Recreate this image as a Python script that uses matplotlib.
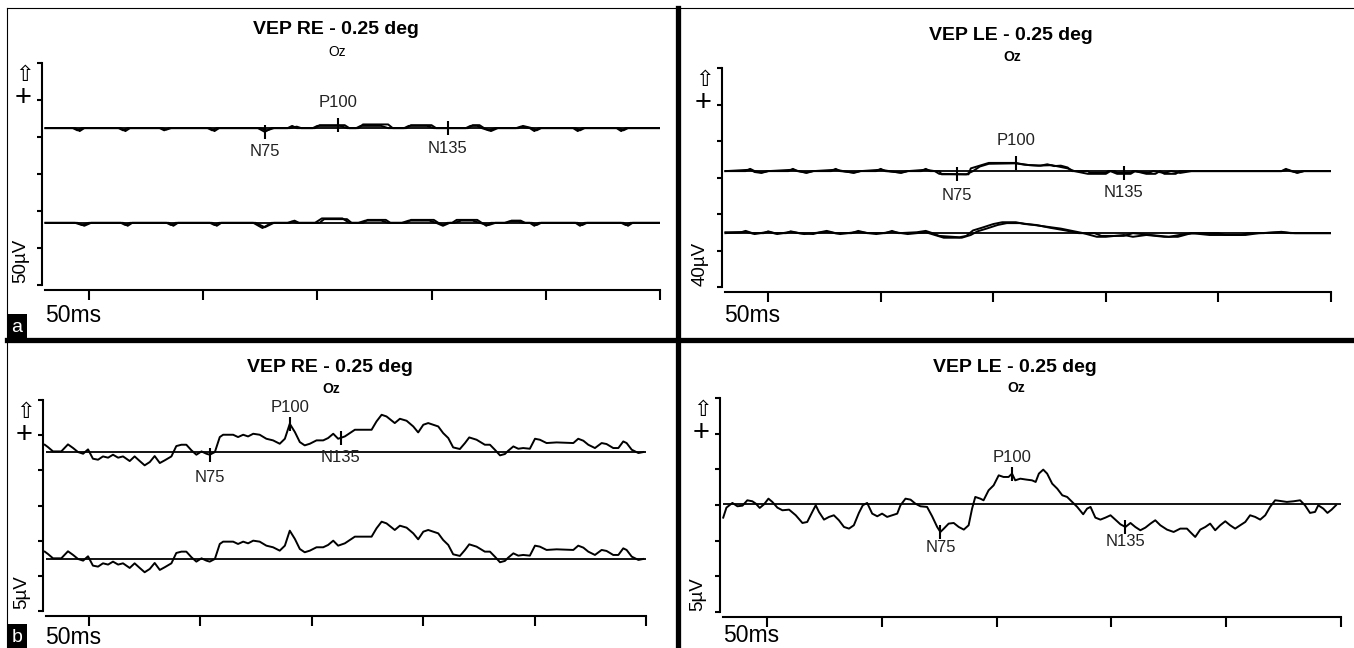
import numpy as np
import matplotlib.pyplot as plt
from matplotlib.lines import Line2D
from matplotlib.patches import Rectangle

plt.rcParams['font.family'] = ['Liberation Sans', 'DejaVu Sans']

W, H = 1354, 648

# ---------------- data (time in ms, amplitude in uV above each baseline) ----------------
titles = ['VEP RE - 0.25 deg', 'VEP LE - 0.25 deg', 'VEP RE - 0.25 deg', 'VEP LE - 0.25 deg']
scale_labels = ['50µV', '40µV', '5µV', '5µV']
uv_per_div = [50, 40, 5, 5]
baselines = [[212, 84], [127, 59], [22.6, 7.4], [15.1]]
time_ticks = [0, 50, 100, 150, 200, 250]
peak_names = ['N75', 'P100', 'N135']
peak_ms = [[77, 109, 157], [84, 110, 158], [54.3, 90.2, 113], [75.5, 106.7, 156]]
panel_tags = ['a', None, 'b', None]

# a, right eye (two superimposed runs per channel)
re_a_top1_t = [-19, -6, -4, -2, 13, 15, 17, 31, 33, 35, 52, 54, 56, 74, 77, 80, 87, 89, 91, 99, 101, 112, 114,
               118, 120, 131, 133, 139, 141, 150, 152, 166, 168, 171, 173, 176, 179, 188, 190, 194, 196, 198,
               213, 215, 217, 232, 234, 236, 250]
re_a_top1_v = [0, 0, -4, 0, 0, -3, 0, 0, -3, 0, 0, -3, 0, 0, -5, 0, 0, 3, 0, 0, 4, 4, 0, 0, 5, 5, 0, 0, 4, 4, 0,
               0, 4, 4, 0, -4, 0, 0, 3, 0, -3, 0, 0, -3, 0, 0, -3, 0, 0]
re_a_top2_t = [-19, -7, -5, -3, 14, 16, 18, 32, 34, 36, 53, 55, 57, 75, 78, 81, 88, 91, 93, 98, 100, 110, 113,
               117, 119, 128, 131, 138, 140, 148, 151, 165, 167, 170, 172, 175, 178, 187, 189, 193, 195, 197,
               212, 214, 216, 231, 233, 235, 250]
re_a_top2_v = [0, 0, -3, 0, 0, -4, 0, 0, -2, 0, 0, -4, 0, 0, -3, 0, 0, 2, 0, 0, 3, 3, 0, 0, 3, 3, 0, 0, 3, 3, 0,
               0, 3, 3, 0, -3, 0, 0, 2, 0, -4, 0, 0, -4, 0, 0, -4, 0, 0]
re_a_bot1_t = [-19, -5, -2, 1, 15, 17, 19, 35, 37, 39, 54, 56, 58, 73, 77, 81, 88, 90, 92, 101, 103, 113, 115,
               120, 122, 130, 132, 139, 141, 151, 153, 155, 157, 159, 161, 170, 172, 174, 176, 183, 185, 189,
               191, 193, 195, 197, 214, 216, 218, 234, 236, 238, 250]
re_a_bot1_v = [0, 0, -4, 0, 0, -4, 0, 0, -4, 0, 0, -4, 0, 0, -6, 0, 0, 3, 0, 0, 5, 5, 0, 0, 4, 4, 0, 0, 4, 4,
               0, -3, 0, 0, 4, 4, 0, -4, 0, 0, 3, 3, 0, 0, -4, 0, 0, -3, 0, 0, -4, 0, 0]
re_a_bot2_t = [-19, -6, -3, 0, 14, 16, 18, 34, 36, 38, 53, 55, 57, 72, 76, 80, 87, 89, 91, 99, 102, 111, 114,
               118, 121, 128, 131, 137, 140, 149, 152, 155, 158, 160, 163, 168, 171, 175, 178, 182, 184, 188,
               190, 194, 196, 198, 213, 215, 217, 233, 235, 237, 250]
re_a_bot2_v = [0, 0, -3, 0, 0, -3, 0, 0, -3, 0, 0, -3, 0, 0, -7, 0, 0, 2, 0, 0, 6, 6, 0, 0, 3, 3, 0, 0, 3, 3,
               0, -4, 0, 0, 3, 3, 0, -3, 0, 0, 2, 2, 0, 0, -3, 0, 0, -4, 0, 0, -3, 0, 0]

# a, left eye
le_a_top1_t = [-19, -10, -8, -6, -3, 0, 9, 11, 13, 17, 20, 28, 30, 32, 38, 41, 48, 50, 52, 59, 62, 68, 70, 72,
               76, 77, 89, 90, 94, 98, 110, 112, 116, 121, 124, 127, 130, 133, 135, 142, 143, 150, 151, 154,
               155, 161, 162, 169, 171, 176, 179, 183, 188, 228, 230, 232, 235, 238, 250]
le_a_top1_v = [0, 0, 2.5, 0, -1.5, 0, 0, 2.5, 0, -1.5, 0, 0, 2.5, 0, -1.5, 0, 0, 2.5, 0, -1.5, 0, 0, 2.5, 0,
               0, -3.5, -3.5, 3, 6, 9, 9, 8, 6.5, 6, 7.5, 5.5, 6, 4, 0, 0, -2, -2, 0, 0, -2, -2, 0, -2, 0, -2,
               0, -2, 0, 0, 2.5, 0, -1.5, 0, 0]
le_a_top2_t = [-19, -8, -6, -3, 0, 11, 17, 20, 30, 38, 41, 50, 59, 62, 70, 74, 76, 88, 91, 94, 98, 110, 114,
               120, 126, 133, 136, 142, 150, 152, 155, 161, 163, 168, 172, 174, 176, 181, 183, 228, 231, 235,
               238, 250]
le_a_top2_v = [0, 1.5, -1, -2, 0, 1.5, -2, 0, 1.5, -2, 0, 1.5, -2, 0, 1.5, 0, -3, -3.5, 0, 5, 8, 8.5, 7, 6,
               6.5, 3, 0, -3, -3, 0, -3, -3, 0, -3, -3, 0, -3, -3, 0, 0, 1.5, -2, 0, 0]
le_a_bot1_t = [-19, -12, -10, -7, -2, 0, 3, 8, 10, 14, 20, 23, 26, 30, 37, 40, 44, 52, 55, 58, 66, 70, 73, 76,
               85, 88, 91, 95, 100, 104, 110, 114, 119, 125, 132, 138, 145, 148, 158, 162, 170, 178, 185, 190,
               200, 203, 210, 213, 220, 228, 232, 240, 250]
le_a_bot1_v = [1, 1, 2.5, 0, 0, 2, 0, 0, 2, 0, -1, 1, 2.5, 0, 0, 2.5, 0, 0, 2.5, 0, 1, 2.5, 0, -3, -4.5, -3,
               3, 6, 10, 12, 12, 10, 9, 6, 3, 0, 0, -3, -3, 0, -2, -4, -1, 0, 0, -2, -2, 0, 0, 1.5, 0, 0, 0]
le_a_bot2_t = [-19, -10, -6, 0, 4, 10, 16, 26, 32, 40, 48, 55, 62, 70, 74, 78, 86, 90, 93, 97, 102, 106, 112,
               118, 124, 130, 136, 140, 146, 150, 158, 162, 168, 176, 182, 188, 196, 202, 212, 218, 228, 234, 250]
le_a_bot2_v = [0, 1.5, -1, 1.5, -1, 1.5, -1, 1.5, -1, 1.5, -1, 1.5, -1, 1, -2, -5, -5, -2, 2, 5, 9, 11, 11, 9,
               7, 5, 2, 0, -4, -4, -2, -4, -2, -4, -4, 0, -2, -2, -2, 0, 1, 0, 0]

# b, right eye (same averaged wave shown on both channels)
re_b_t = [-19.7, -18.3, -16.0, -12.3, -9.3, -7.0, -4.8, -2.5, -0.3, 1.9, 4.2, 6.4, 8.7, 10.9, 13.2, 15.4,
          18.4, 20.6, 22.9, 25.1, 27.4, 29.6, 31.9, 34.1, 37.1, 39.3, 41.6, 43.8, 46.1, 48.3, 50.6, 52.8,
          54.3, 56.6, 58.8, 60.3, 64.8, 67.0, 69.3, 71.5, 73.8, 76.7, 79.7, 82.7, 85.7, 88.0, 90.2, 92.5,
          94.7, 96.9, 99.2, 102.2, 105.2, 107.4, 109.7, 111.9,
          114.9, 119.4, 126.9, 129.1, 131.4, 133.6, 137.3, 139.6, 142.6, 145.6, 147.8, 150.1, 152.3, 156.8,
          159.0, 161.3, 163.5, 166.5, 168.8, 170.7, 174.0, 177.7, 180.0, 182.2, 184.5, 186.7, 188.2, 190.5,
          192.7, 194.9, 197.9, 200.2, 202.4, 205.4, 209.9, 217.4, 219.6, 221.9, 224.1, 227.1, 230.1, 232.3,
          235.3, 237.6, 239.8, 241.3, 243.6, 246.6, 248.8]
re_b_v = [1.04, 0.71, 0.09, 0.09, 1.09, 0.57, 0.0, -0.24, 0.38, -0.95, -1.09, -0.62, -0.80, -0.38, -0.80,
          -0.62, -1.28, -0.62, -1.28, -1.89, -1.42, -0.57, -1.56, -1.18, -0.62, 0.85, 1.04, 1.04, 0.24,
          -0.38, 0.09, -0.24, -0.38, 0.0, 2.13, 2.46, 2.46, 2.13, 2.46, 2.22, 2.60, 2.46, 1.89, 1.66, 1.18,
          1.89, 4.02, 2.84, 1.42, 0.95, 1.18, 1.66, 1.66, 1.99, 2.60, 1.89,
          2.22, 3.17, 3.17, 4.35, 5.30, 5.06, 4.12, 4.73, 4.45, 3.64, 2.79, 3.88, 4.12, 3.64, 2.70, 1.99,
          0.66, 0.43, 1.28, 2.08, 1.75, 1.04, 1.04, 0.33, -0.47, -0.28, 0.19, 0.80, 0.47, 0.57, 0.47, 1.89,
          1.75, 1.28, 1.37, 1.28, 1.89, 1.61, 1.04, 0.57, 1.28, 1.14, 0.57, 0.57, 1.51, 1.28, 0.33, -0.14,
          0.0]

# b, left eye
le_b_t = [-19.1, -17.7, -15.1, -12.9, -10.7, -8.6, -6.4, -4.9, -3.2, -1.3, 0.6, 2.3, 4.5, 6.7, 9.6, 12.5,
          15.4, 17.5, 19.7, 21.2, 22.6, 24.8, 27.0, 29.1, 31.3, 33.5, 35.7, 37.8, 40.0, 41.7, 43.6, 45.8,
          48.0, 50.1, 52.3, 54.5, 56.7, 58.1, 60.3, 62.5, 64.6, 66.8, 69.7, 71.9, 74.1, 75.5, 77.0, 79.1,
          81.3, 83.5, 85.7, 87.8, 89.3, 90.7, 92.9, 94.3, 96.5, 98.7, 100.9, 103.0, 105.2, 106.7, 108.1,
          110.3, 113.2, 115.4,
          117.0, 118.4, 120.3, 122.0, 124.2, 126.4, 128.6, 130.7, 132.9, 135.1, 137.7, 139.4, 140.9, 143.0,
          145.2, 147.4, 149.6, 151.7, 153.9, 156.1, 158.3, 160.4, 162.6, 164.8, 167.0, 169.1, 171.3, 174.2,
          177.1, 180.0, 182.9, 184.3, 186.5, 188.7, 190.9, 193.0, 195.2, 197.4, 199.6, 201.7, 203.9, 206.1,
          208.3, 210.4, 212.6, 214.8, 217.0, 219.1, 221.3, 223.5, 226.4, 229.3, 232.2, 234.3, 236.5, 238.7,
          240.1, 242.3, 244.1, 245.9, 247.8]
le_b_v = [-1.87, -0.47, 0.19, -0.28, -0.19, 0.56, 0.42, 0.09, -0.51, 0.0, 0.79, 0.33, -0.47, -0.84, -0.75,
          -1.54, -2.62, -2.48, -1.07, -0.14, -1.07, -2.15, -1.77, -1.54, -2.24, -3.18, -3.41, -2.94, -1.21,
          -0.14, 0.19, -1.31, -1.68, -1.31, -1.77, -1.54, -1.31, -0.14, 0.79, 0.65, 0.09, -0.28, -0.37,
          -1.68, -3.18, -3.88, -3.41, -2.71, -2.62, -3.18, -3.55, -2.94, -0.61, 1.03, 0.79, 0.56, 1.96, 2.66,
          4.06, 3.83, 3.83, 4.30, 3.36, 3.59, 3.45, 3.36,
          3.13, 4.30, 4.86, 4.30, 2.89, 2.19, 1.26, 1.03, 0.33, -0.37, -1.40, -0.61, -0.37, -1.87, -2.15,
          -1.87, -1.54, -2.15, -2.80, -3.18, -2.62, -3.18, -3.64, -3.27, -2.71, -2.24, -2.94, -3.55, -3.88,
          -3.41, -3.41, -3.88, -4.58, -3.55, -3.18, -2.71, -3.64, -2.94, -2.38, -2.94, -3.41, -2.94, -2.48,
          -1.54, -1.77, -2.15, -1.54, -0.37, 0.56, 0.47, 0.33, 0.42, 0.56, -0.14, -1.21, -1.07, -0.14, -0.61,
          -1.21, -0.75, -0.14]

traces = [
    [(re_a_top1_t, re_a_top1_v, 0), (re_a_top2_t, re_a_top2_v, 0),
     (re_a_bot1_t, re_a_bot1_v, 1), (re_a_bot2_t, re_a_bot2_v, 1)],
    [(le_a_top1_t, le_a_top1_v, 0), (le_a_top2_t, le_a_top2_v, 0),
     (le_a_bot1_t, le_a_bot1_v, 1), (le_a_bot2_t, le_a_bot2_v, 1)],
    [(re_b_t, re_b_v, 0), (re_b_t, re_b_v, 1)],
    [(le_b_t, le_b_v, 0)],
]

# ---------------- layout (pixels) ----------------
boxes = [(42, 63, 660, 285), (722, 68, 1331, 287), (43, 400, 646, 611), (720, 398, 1341, 612)]
label_off = [[(0, -20), (0, 23), (0, -20)],
             [(0, -21), (0, 22), (0, -20)],
             [(0, -23), (0, 16), (0, -20)],
             [(0, -16), (0, 16), (0, -15)]]
title_pos = [(336, 30), (1011, 35), (330, 368), (1015, 368)]
oz_pos = [(337, 52), (1012, 57), (331, 389), (1016, 388)]
ms_pos = [(45, 315), (724, 315), (45, 637), (723, 635)]
uv_pos = [(21, 261), (700, 264), (22, 592), (698, 594)]


def fx(x):
    return x / W


def fy(y):
    return 1 - y / H


fig = plt.figure(figsize=(W / 100, H / 100), dpi=100)

for i, (l, t, r, b) in enumerate(boxes):
    ax = fig.add_axes([fx(l), fy(b), (r - l) / W, (b - t) / H])
    ax.patch.set_visible(False)
    div = uv_per_div[i]
    ax.set_xlim(-20.5, 250)
    ax.set_ylim(0, 6 * div)

    for base in baselines[i]:
        ax.hlines(base, -19, 250, color='black', lw=1.3)
    for tt, vv, k in traces[i]:
        ax.plot(tt, np.array(vv) + baselines[i][k], color='black', lw=1.4)

    tt, vv, k = traces[i][0]
    for name, pt, (dx, dy) in zip(peak_names, peak_ms[i], label_off[i]):
        yv = np.interp(pt, tt, vv) + baselines[i][k]
        ax.plot([pt], [yv], marker='|', ms=10, mew=1.5, color='black')
        ax.annotate(name, (pt, yv), xytext=(dx * 0.72, dy * 0.72), textcoords='offset points',
                    ha='center', va='center', fontsize=12, color='#222222')

    ax.spines[['top', 'right']].set_visible(False)
    for s in ['left', 'bottom']:
        ax.spines[s].set_linewidth(1.5)
    ax.spines['bottom'].set_position(('outward', 3.5))
    ax.spines['bottom'].set_bounds(-19, 250)
    ax.set_xticks(time_ticks)
    ax.set_yticks(np.arange(7) * div)
    ax.tick_params(axis='x', direction='out', length=7.5, width=1.5, labelbottom=False)
    ax.tick_params(axis='y', direction='out', length=3.5, width=1.5, labelleft=False)

    fig.text(fx(title_pos[i][0]), fy(title_pos[i][1]), titles[i], ha='center', va='center',
             fontsize=14, fontweight='bold')
    fig.text(fx(oz_pos[i][0]), fy(oz_pos[i][1]), 'Oz', ha='center', va='center',
             fontsize=10, fontweight='bold' if i else 'normal')
    fig.text(fx(ms_pos[i][0]), fy(ms_pos[i][1]), '50ms', ha='left', va='center', fontsize=16.5)
    fig.text(fx(uv_pos[i][0]), fy(uv_pos[i][1]), scale_labels[i], ha='center', va='center',
             fontsize=13.5, rotation=90)
    fig.text(fx(l - 17), fy(t + 12), '⇧', ha='center', va='center', fontsize=16,
             family=['DejaVu Sans'])
    fig.text(fx(l - 19), fy(t + 35), '+', ha='center', va='center', fontsize=21)

    if panel_tags[i]:
        y_bot = 338 if i == 0 else 648
        fig.add_artist(Rectangle((fx(7), fy(y_bot)), 20 / W, 24 / H, transform=fig.transFigure,
                                 facecolor='black', edgecolor='none'))
        fig.text(fx(17), fy(y_bot - 10), panel_tags[i], color='white', ha='center', va='center',
                 fontsize=14)

# panel frames
frame = [((7, 7), (8, 648), 0.8), ((7, 1354), (8, 8), 0.8),
         ((678, 678), (8, 648), 3.8), ((7, 1354), (340, 340), 3.8)]
for xs, ys, lw in frame:
    fig.add_artist(Line2D([fx(xs[0]), fx(xs[1])], [fy(ys[0]), fy(ys[1])], transform=fig.transFigure,
                          color='black', lw=lw))

fig.savefig('out.png', dpi=100)
